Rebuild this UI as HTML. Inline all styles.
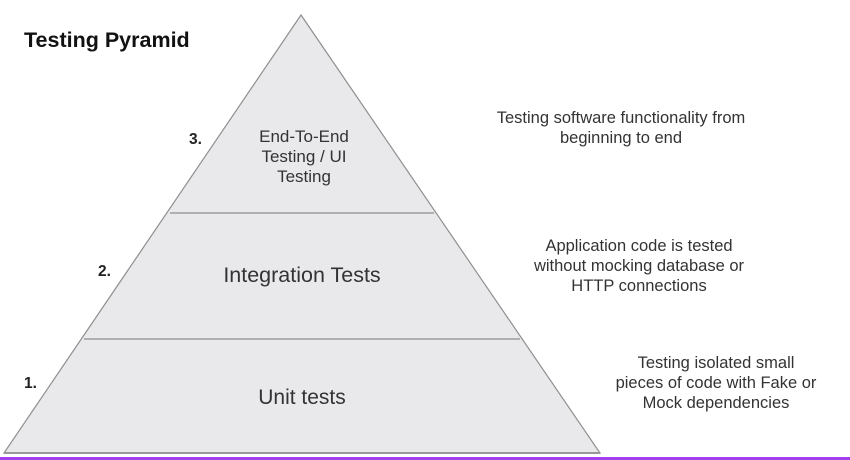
<!DOCTYPE html>
<html><head><meta charset="utf-8"><style>
body{margin:0;width:850px;height:460px;background:#fff;overflow:hidden;font-family:"Liberation Sans",sans-serif;}
</style></head><body>
<svg width="850" height="460" xmlns="http://www.w3.org/2000/svg" style="position:absolute;left:0;top:0">
<rect x="0" y="457" width="850" height="3" fill="#a43ff0"/>
<polygon points="301,15 4,453 600,453" fill="#e9e8eb" stroke="#8f8f8f" stroke-width="1.2"/>
<line x1="4" y1="453" x2="600" y2="453" stroke="#999" stroke-width="2"/>
<line x1="170" y1="213" x2="434" y2="213" stroke="#8f8f8f" stroke-width="1.2"/>
<line x1="84" y1="339" x2="520" y2="339" stroke="#8f8f8f" stroke-width="1.2"/>
<g font-family="Liberation Sans, sans-serif" fill="#222">
<text x="24" y="47" font-size="21.5" font-weight="bold" fill="#111">Testing Pyramid</text>
<text x="189" y="144" font-size="15.5" font-weight="bold">3.</text>
<text x="98" y="276" font-size="15.5" font-weight="bold">2.</text>
<text x="24" y="388" font-size="15.5" font-weight="bold">1.</text>
<g text-anchor="middle" font-size="17" fill="#333">
<text x="304" y="142">End-To-End</text>
<text x="304" y="162">Testing / UI</text>
<text x="304" y="182">Testing</text>
</g>
<text x="302" y="282" font-size="21.5" text-anchor="middle" fill="#333">Integration Tests</text>
<text x="302" y="404" font-size="21" text-anchor="middle" fill="#333">Unit tests</text>
<g text-anchor="middle" font-size="16.5" fill="#333">
<text x="621" y="123">Testing software functionality from</text>
<text x="621" y="143">beginning to end</text>
<text x="639" y="251">Application  code is tested</text>
<text x="639" y="271">without mocking database or</text>
<text x="639" y="291">HTTP connections</text>
<text x="716" y="368">Testing isolated small</text>
<text x="716" y="388">pieces of code with Fake or</text>
<text x="716" y="408">Mock dependencies</text>
</g>
</g>
</svg>
</body></html>
